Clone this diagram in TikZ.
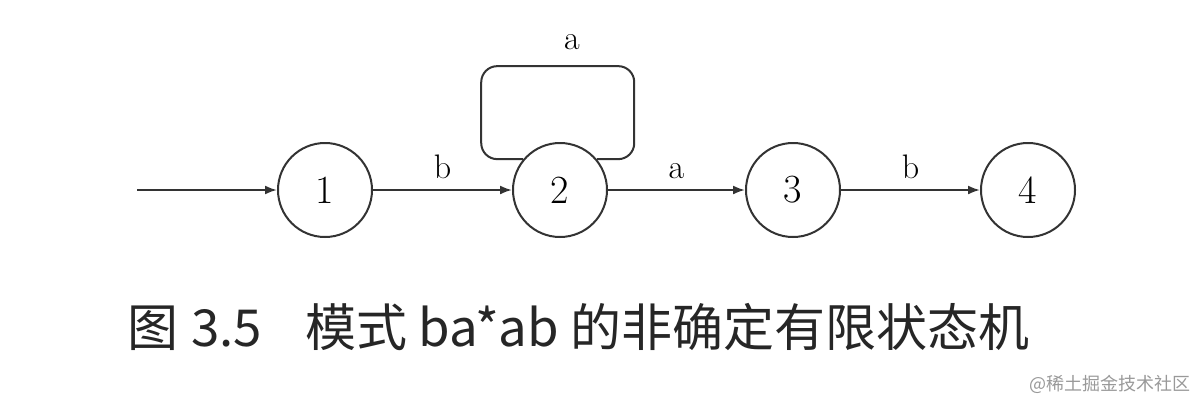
\documentclass[tikz,border=0pt]{standalone}
\usepackage{fontspec}
\newfontfamily\cjk{Noto Sans CJK SC}
\usetikzlibrary{arrows.meta}

\begin{document}
\begin{tikzpicture}[x=0.5pt,y=-0.5pt,>={Latex[length=6pt,width=4.5pt]}]
   \useasboundingbox (0,0) rectangle (1204,402);
   \tikzstyle{state}=[circle, minimum size=47pt, inner sep=0pt, draw=black!80, line width=1pt, font=\fontsize{20}{20}\selectfont]
   \tikzstyle{trans}=[->, draw=black!80, line width=1pt]
   \tikzstyle{lbl}=[font=\fontsize{17}{17}\selectfont]
   \foreach \i/\x in {1/325,2/560,3/793,4/1028} {
       \node[state] (s\i) at (\x,190) {\i};
   }
   \coordinate (start) at (137,190);
   \path (start) edge[trans] (s1);
   \path (s1) edge[trans] node[lbl, above=2pt] {b} (s2);
   \path (s2) edge[trans] node[lbl, above=2pt] {a} (s3);
   \path (s3) edge[trans] node[lbl, above=2pt] {b} (s4);
   % self loop on state 2
   \draw[draw=black!80, line width=1pt, rounded corners=8pt]
      (s2.140) -- ++(-42,0) -- ++(0,-93) -- ++(153,0) -- ++(0,93) -- (s2.40);
   \node[lbl] (loop) at (572,42) {a};
   \node[anchor=west, inner sep=0pt, font=\cjk\fontsize{25.5}{25.5}\selectfont, text=black!85] (caption) at (127,327)
      {图\hspace{0.25em}3.5\hspace{0.85em}模式 ba*ab 的非确定有限状态机};
   \node[anchor=east, text=black!40, font=\cjk\fontsize{9}{9}\selectfont] (mark) at (1198,384) {@稀土掘金技术社区};
\end{tikzpicture}
\end{document}
